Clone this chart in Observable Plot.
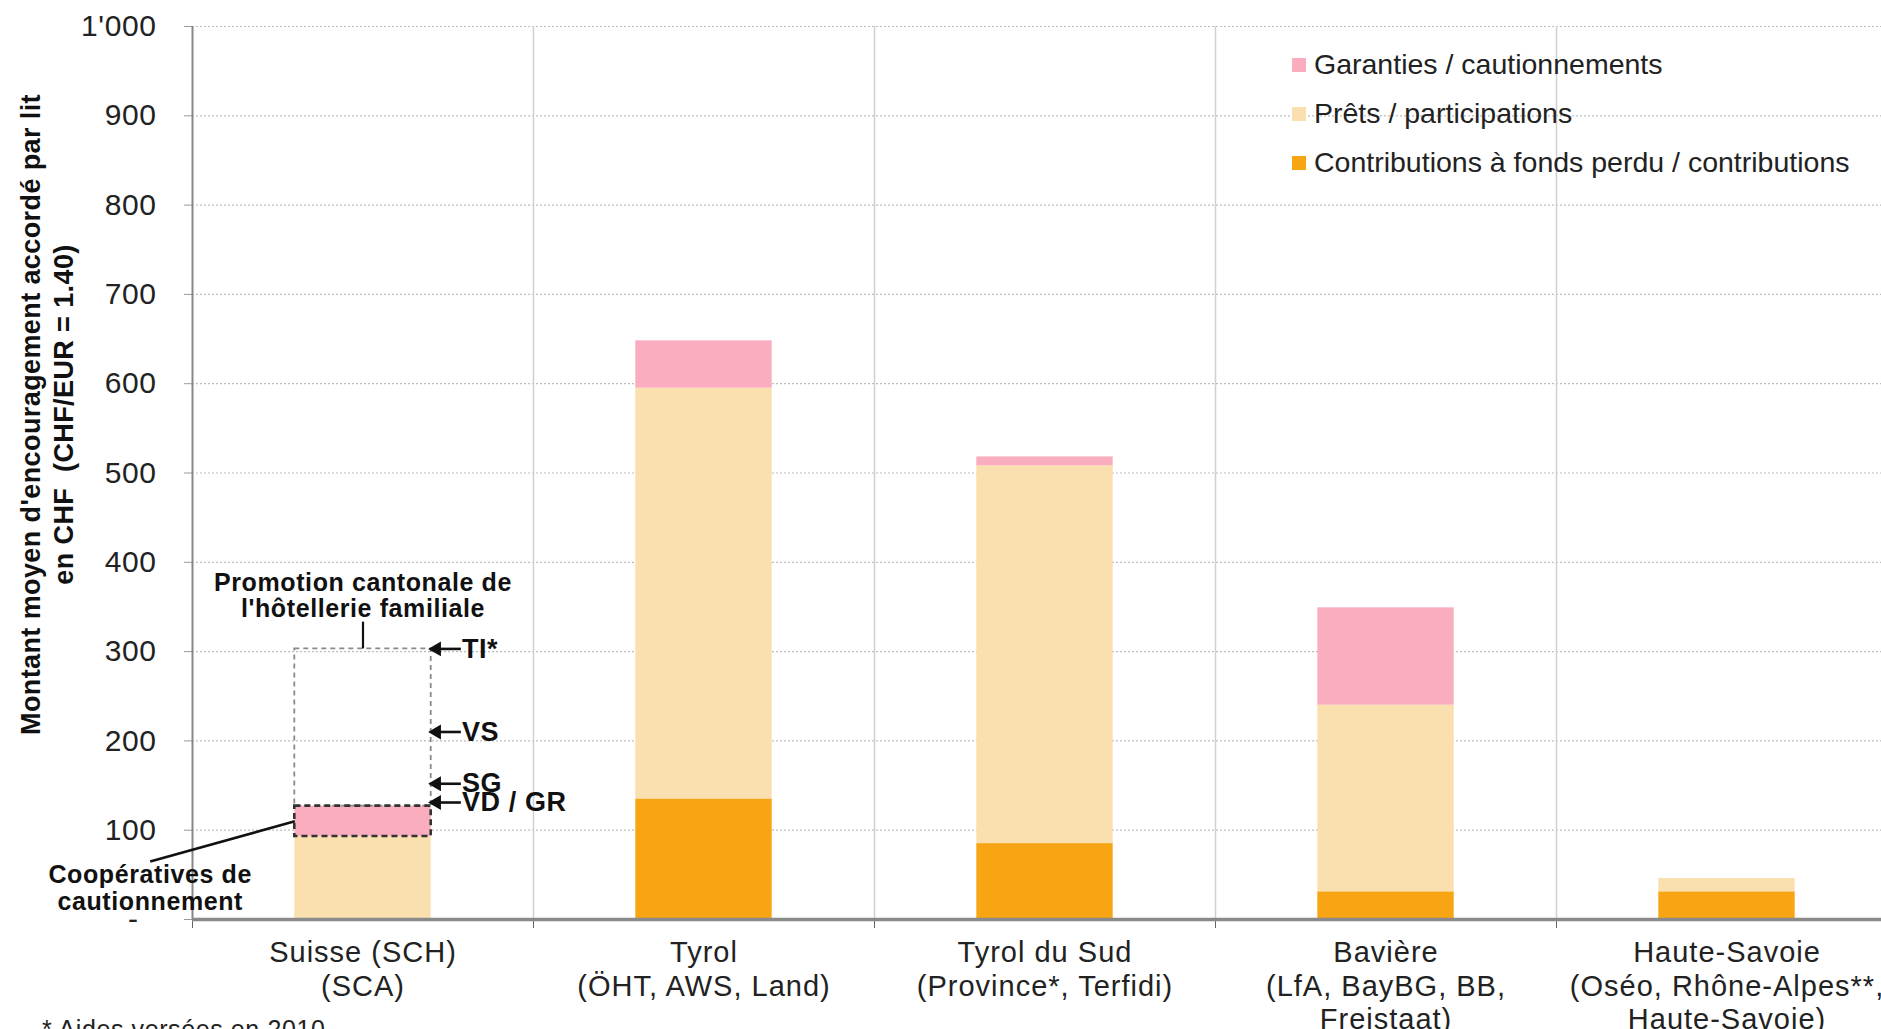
<!DOCTYPE html>
<html>
<head>
<meta charset="utf-8">
<script src="https://cdn.jsdelivr.net/npm/d3@7"></script>
<script src="https://cdn.jsdelivr.net/npm/@observablehq/plot@0.6"></script>
<style>
  html, body { margin: 0; padding: 0; background: #fff; }
  body { width: 1881px; height: 1029px; overflow: hidden; position: relative;
         font-family: "Liberation Sans", Arial, sans-serif; color: #222; }
  #chart { position: absolute; left: 0; top: 0; }
  #chart svg { max-width: none !important; }
  .catlab text { letter-spacing: 1px; }
  .ylab text { letter-spacing: 0.6px; }
  .annot text { letter-spacing: 0.6px; }
  .ytitle text { letter-spacing: 0.4px; }
  #legend { position: absolute; left: 1292px; top: 40px; font-size: 28.5px; }
  .row { display: flex; align-items: center; height: 49px; white-space: nowrap; }
  .sw { width: 14px; height: 14px; margin-right: 8px; flex: none; }
  #note { position: absolute; left: 42px; top: 1017px; font-size: 25px; line-height: 25px; white-space: nowrap; letter-spacing: 0.6px; }
</style>
</head>
<body>
<div id="chart"></div>
<div id="legend"></div>
<div id="note">* Aides versées en 2010</div>
<script>
// ---------- data ----------
const categories = [
  "Suisse (SCH)\n(SCA)",
  "Tyrol\n(ÖHT, AWS, Land)",
  "Tyrol du Sud\n(Province*, Terfidi)",
  "Bavière\n(LfA, BayBG, BB,\nFreistaat)",
  "Haute-Savoie\n(Oséo, Rhône-Alpes**,\nHaute-Savoie)"
];
const seriesNames = [
  "Contributions à fonds perdu / contributions",
  "Prêts / participations",
  "Garanties / cautionnements"
];
const contributions = [0, 135, 85, 31, 31];
const prets = [93, 460, 423, 209, 15];
const garanties = [34, 53, 10, 109, 0];
const seriesColors = ["#F8A513", "#FADFAF", "#F9ADBF"];

const yTicks = [0, 100, 200, 300, 400, 500, 600, 700, 800, 900, 1000];
const yTickLabels = ["-\u00a0\u00a0", "100", "200", "300", "400", "500", "600", "700", "800", "900", "1'000"];

const cantons = ["TI*", "VS", "SG", "VD / GR"];
const cantonValues = [303, 210, 152, 131];

const yTitle = "Montant moyen d'encouragement accordé par lit\nen CHF\u00a0\u00a0(CHF/EUR = 1.40)";
const promoLabel = "Promotion cantonale de\nl'hôtellerie familiale";
const coopLabel = "Coopératives de\ncautionnement";

// ---------- derived ----------
const seriesValues = [contributions, prets, garanties];
const segments = [];
categories.forEach((c, i) => {
  let acc = 0;
  seriesValues.forEach((arr, s) => {
    const v = arr[i];
    if (v > 0) segments.push({i, cat: c, series: seriesNames[s], y1: acc, y2: acc + v});
    acc += v;
  });
});
const BL = 0.3, BR = 0.7; // bar occupies 40% of category, centred
const swissG = segments.filter(d => d.i === 0 && d.series === seriesNames[2]);
const swissTop = swissG[0].y2;
const cantonData = cantons.map((c, k) => ({canton: c, value: cantonValues[k]}));
const cantonBox = [{y1: swissTop, y2: d3.max(cantonValues)}];

const chart = Plot.plot({
  width: 1897,
  height: 1029,
  marginLeft: 192,
  marginRight: 0,
  marginTop: 26,
  marginBottom: 110,
  style: {fontFamily: "'Liberation Sans', Arial, sans-serif", color: "#222", background: "transparent", maxWidth: "none"},
  x: {type: "linear", domain: [0, categories.length], axis: null},
  y: {domain: [0, 1000], axis: null},
  color: {domain: seriesNames, range: seriesColors},
  marks: [
    Plot.ruleY(yTicks.slice(1), {stroke: "#bdbdbd", strokeWidth: 1.2, strokeDasharray: "2,2"}),
    Plot.ruleX(d3.range(1, categories.length + 1), {stroke: "#d0d0d0", strokeWidth: 1.5}),
    Plot.rect(segments, {x1: d => d.i + BL, x2: d => d.i + BR, y1: "y1", y2: "y2", fill: "series"}),
    // cantonal promotion range box (thin grey dashed)
    Plot.rect(cantonBox, {x1: () => BL, x2: () => BR, y1: "y1", y2: "y2", fill: "none",
      stroke: "#8a8a8a", strokeWidth: 1.8, strokeDasharray: "5,4"}),
    // guarantee cooperatives outline (dark dashed)
    Plot.rect(swissG, {x1: d => d.i + BL, x2: d => d.i + BR, y1: "y1", y2: "y2", fill: "none",
      stroke: "#333", strokeWidth: 2.6, strokeDasharray: "6,4"}),
    Plot.axisY({ticks: yTicks, tickFormat: d => yTickLabels[yTicks.indexOf(d)], tickSize: 8, tickPadding: 28,
      fontSize: 30, stroke: "#999", label: null, className: "ylab"}),
    Plot.ruleX([0], {y1: 0, y2: 1000, stroke: "#888", strokeWidth: 2}),
    Plot.axisX({ticks: d3.range(0, categories.length + 1), tickFormat: () => "", tickSize: 9, stroke: "#666", label: null}),
    Plot.ruleY([0], {stroke: "#8a8a8a", strokeWidth: 3.5}),
    // category labels
    Plot.text(categories, {x: (d, i) => i + 0.5, y: () => 0, text: d => d, lineAnchor: "top", dy: 19,
      fontSize: 29, lineHeight: 1.15, fill: "#222", className: "catlab"}),
    // canton arrows + labels
    Plot.link(cantonData, {x1: () => 0.787, x2: () => 0.72, y1: "value", y2: "value",
      stroke: "#111", strokeWidth: 2.6}),
    Plot.dot(cantonData, {x: () => 0.716, y: "value", symbol: "triangle", rotate: -90, r: 5.5,
      fill: "#111", stroke: "none"}),
    Plot.text(cantonData, {x: () => 0.79, y: "value", text: "canton", textAnchor: "start",
      fontSize: 27, fontWeight: "bold", fill: "#111", className: "annot"}),
    // promotion label + tick
    Plot.ruleX([0.5], {y1: () => d3.max(cantonValues), y2: () => 333, stroke: "#111", strokeWidth: 2.2}),
    Plot.text([promoLabel], {x: () => 0.5, y: () => 363, text: d => d, fontSize: 25, fontWeight: "bold",
      lineHeight: 1.06, fill: "#111", className: "annot"}),
    // cooperatives label + leader
    Plot.link([swissG[0]], {x1: () => -0.124, y1: () => 65, x2: d => d.i + BL, y2: d => (d.y1 + d.y2) / 2,
      stroke: "#111", strokeWidth: 2.6}),
    Plot.text([coopLabel], {x: () => -0.124, y: () => 35, text: d => d, fontSize: 25, fontWeight: "bold",
      lineHeight: 1.06, fill: "#111", className: "annot"}),
    // y title
    Plot.text([yTitle], {frameAnchor: "left", dx: -146.5, dy: -58.5, rotate: -90, text: d => d,
      textAnchor: "middle", lineAnchor: "middle", className: "ytitle",
      fontSize: 27, fontWeight: "bold", lineHeight: 1.24, fill: "#111"})
  ]
});
chart.style.maxWidth = "none";
document.getElementById("chart").appendChild(chart);

// legend (top-right, inside plot area)
const legend = document.getElementById("legend");
[2, 1, 0].forEach(s => {
  const row = document.createElement("div");
  row.className = "row";
  const sw = document.createElement("span");
  sw.className = "sw";
  sw.style.background = seriesColors[s];
  const t = document.createElement("span");
  t.textContent = seriesNames[s];
  row.appendChild(sw); row.appendChild(t);
  legend.appendChild(row);
});
</script>
</body>
</html>
